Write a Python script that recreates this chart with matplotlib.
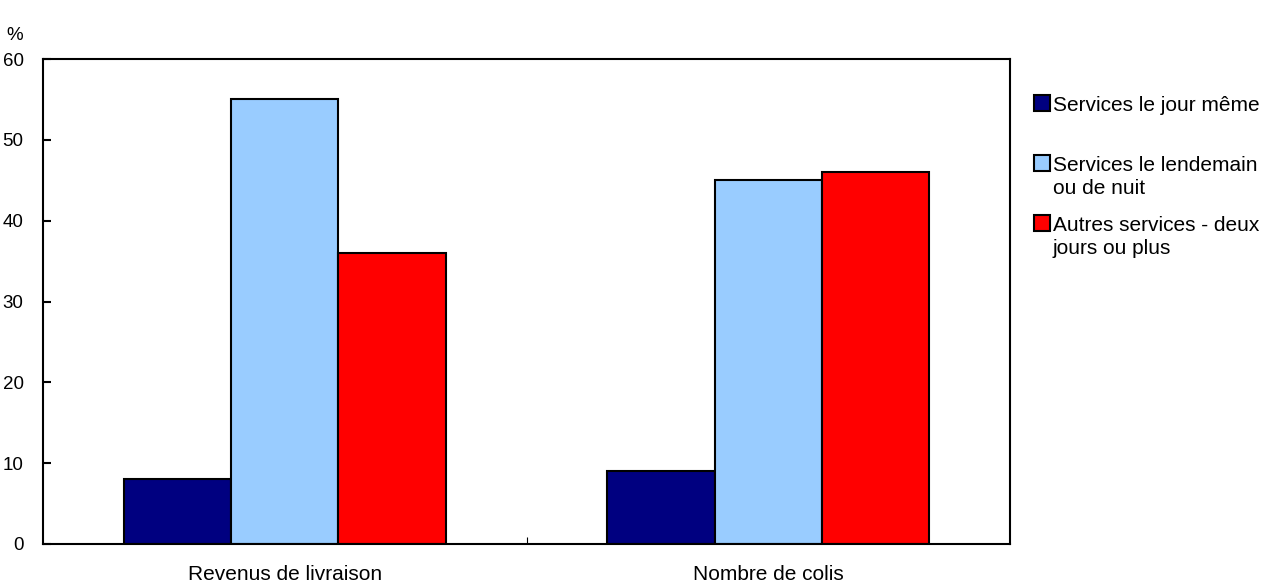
import matplotlib.pyplot as plt
from matplotlib.patches import Rectangle
import numpy as np

plt.rcParams['font.family'] = ['Liberation Sans', 'DejaVu Sans']

categories = ['Revenus de livraison', 'Nombre de colis']
series_labels = ['Services le jour même', 'Services le lendemain\nou de nuit',
                 'Autres services - deux\njours ou plus']
same_day = [8, 9]
next_day = [55, 45]
other = [36, 46]
colors = ['#000080', '#99CCFF', '#FF0000']

fs = 15
fs_tick = 13.5
W, H = 1278, 583

fig = plt.figure(figsize=(12.78, 5.83), dpi=100)
ax = fig.add_axes([43 / W, 1 - 544 / H, 967 / W, 485 / H])

x = np.arange(len(categories))
w = 0.222
for i, (vals, col) in enumerate(zip([same_day, next_day, other], colors)):
    ax.bar(x + (i - 1) * w, vals, w, color=col, edgecolor='black', linewidth=1.5)

ax.set_xlim(-0.5, 1.5)
ax.set_ylim(0, 60)
ax.set_yticks(range(0, 61, 10))
ax.set_xticks([0.5])
ax.set_xticklabels([''])
ax.set_xticks(x, minor=True)
ax.set_xticklabels(categories, minor=True)
ax.tick_params(axis='x', which='minor', length=0, pad=15, labelsize=fs)
ax.tick_params(axis='x', which='major', direction='in', length=5, width=0.8)
ax.tick_params(axis='y', direction='in', length=6, width=1.5, labelsize=fs_tick, pad=14)
for s in ax.spines.values():
    s.set_linewidth(1.5)

fig.text(15 / W, 1 - 36 / H, '%', fontsize=fs_tick, ha='center', va='center')

# legend drawn by hand: square aligned with the first line of each label
for k, (lab, col) in enumerate(zip(series_labels, colors)):
    yc = 103 + 60 * k
    fig.patches.append(Rectangle((1034 / W, 1 - (yc + 8) / H), 16 / W, 16 / H,
                                 transform=fig.transFigure, facecolor=col,
                                 edgecolor='black', linewidth=1.5))
    fig.text(1053 / W, 1 - (yc - 7) / H, lab, fontsize=fs, ha='left', va='top',
             linespacing=1.3)

fig.savefig('out.png', dpi=100)
